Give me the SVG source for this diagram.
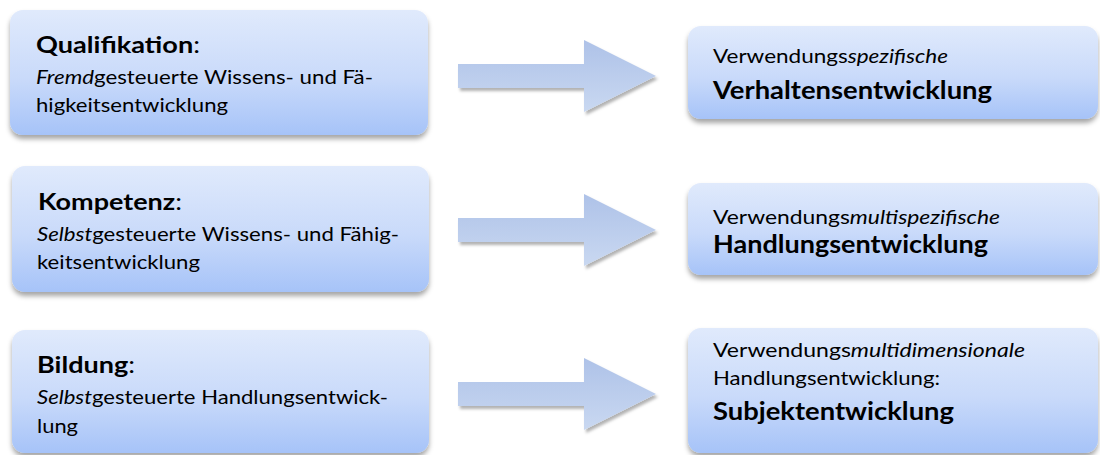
<svg xmlns="http://www.w3.org/2000/svg" width="1100" height="455" viewBox="0 0 1100 455">
  <defs>
    <linearGradient id="boxFill" x1="0" y1="0" x2="0" y2="1">
      <stop offset="0" stop-color="#e0eafc"/>
      <stop offset="0.55" stop-color="#c9dafa"/>
      <stop offset="1" stop-color="#a6c3f8"/>
    </linearGradient>
    <linearGradient id="arrowFill" x1="0" y1="0" x2="0" y2="1">
      <stop offset="0" stop-color="#aec2e8"/>
      <stop offset="1" stop-color="#c9d8f1"/>
    </linearGradient>
    <filter id="boxShadow" x="-5%" y="-10%" width="110%" height="130%">
      <feDropShadow dx="0" dy="4" stdDeviation="2.5" flood-color="#000" flood-opacity="0.35"/>
    </filter>
    <filter id="arrowShadow" x="-5%" y="-10%" width="115%" height="130%">
      <feDropShadow dx="2" dy="3" stdDeviation="1.5" flood-color="#000" flood-opacity="0.3"/>
    </filter>
  </defs>
  <style>
    .box { fill: url(#boxFill); filter: url(#boxShadow); }
    .arrow { fill: url(#arrowFill); filter: url(#arrowShadow); }
    text { font-family: Lato, "Open Sans", sans-serif; fill: #000; }
    .body { font-size: 20px; }
    .head { font-size: 23px; }
    .big { font-size: 25px; font-weight: bold; }
    .b { font-weight: bold; }
    .i { font-style: italic; }
  </style>

  <!-- left column: terms -->
  <g id="qualifikation">
    <rect class="box" x="10" y="10" width="418" height="125" rx="13"/>
    <text class="head" x="36" y="53" textLength="164" lengthAdjust="spacingAndGlyphs"><tspan class="b">Qualifikation</tspan>:</text>
    <text class="body" x="36" y="84" textLength="337" lengthAdjust="spacingAndGlyphs"><tspan class="i">Fremd</tspan>gesteuerte Wissens- und Fä-</text>
    <text class="body" x="36" y="112" textLength="192" lengthAdjust="spacingAndGlyphs">higkeitsentwicklung</text>
  </g>

  <g id="kompetenz">
    <rect class="box" x="12" y="166" width="417" height="126" rx="13"/>
    <text class="head" x="38" y="210" textLength="144" lengthAdjust="spacingAndGlyphs"><tspan class="b">Kompetenz</tspan>:</text>
    <text class="body" x="37" y="241" textLength="362" lengthAdjust="spacingAndGlyphs"><tspan class="i">Selbst</tspan>gesteuerte Wissens- und Fähig-</text>
    <text class="body" x="37" y="269" textLength="163" lengthAdjust="spacingAndGlyphs">keitsentwicklung</text>
  </g>

  <g id="bildung">
    <rect class="box" x="12" y="330" width="417" height="123" rx="13"/>
    <text class="head" x="37" y="373" textLength="98" lengthAdjust="spacingAndGlyphs"><tspan class="b">Bildung</tspan>:</text>
    <text class="body" x="37" y="404" textLength="351" lengthAdjust="spacingAndGlyphs"><tspan class="i">Selbst</tspan>gesteuerte Handlungsentwick-</text>
    <text class="body" x="37" y="433" textLength="41" lengthAdjust="spacingAndGlyphs">lung</text>
  </g>

  <!-- right column: outcomes -->
  <g id="verhaltensentwicklung">
    <rect class="box" x="688" y="26" width="410" height="93" rx="13"/>
    <text class="body" x="713" y="63" textLength="235" lengthAdjust="spacingAndGlyphs">Verwendungs<tspan class="i">spezifische</tspan></text>
    <text class="big" x="713" y="99" textLength="279" lengthAdjust="spacingAndGlyphs">Verhaltensentwicklung</text>
  </g>

  <g id="handlungsentwicklung">
    <rect class="box" x="688" y="183" width="410" height="92" rx="13"/>
    <text class="body" x="713" y="224" textLength="287" lengthAdjust="spacingAndGlyphs">Verwendungs<tspan class="i">multispezifische</tspan></text>
    <text class="big" x="713" y="253" textLength="275" lengthAdjust="spacingAndGlyphs">Handlungsentwicklung</text>
  </g>

  <g id="subjektentwicklung">
    <rect class="box" x="688" y="328" width="410" height="125" rx="13"/>
    <text class="body" x="713" y="357" textLength="312" lengthAdjust="spacingAndGlyphs">Verwendungs<tspan class="i">multidimensionale</tspan></text>
    <text class="body" x="713" y="385" textLength="227" lengthAdjust="spacingAndGlyphs">Handlungsentwicklung:</text>
    <text class="big" x="713" y="420" textLength="241" lengthAdjust="spacingAndGlyphs">Subjektentwicklung</text>
  </g>

  <!-- block arrows between the columns -->
  <g id="connectors">
    <polygon class="arrow" points="458,64 584,64 584,40 656,76 584,112 584,88 458,88"/>
    <polygon class="arrow" points="458,218 584,218 584,194 656,230 584,266 584,242 458,242"/>
    <polygon class="arrow" points="458,382 584,382 584,358 656,394 584,430 584,406 458,406"/>
  </g>
</svg>
